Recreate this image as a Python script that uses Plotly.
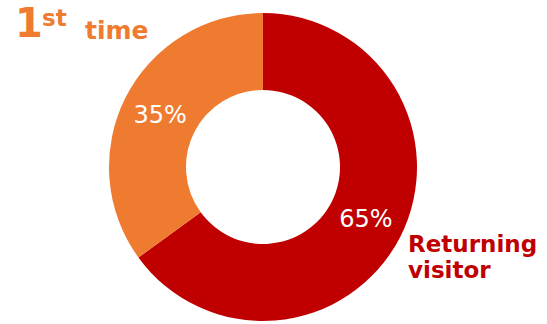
import plotly.graph_objects as go

# Visitor split
labels = ["Returning visitor", "1st time"]
values = [65, 35]
colors = ["#C00000", "#EE7B30"]

W, H = 547, 324
cx, cy, r = 263, 167, 154  # pie centre and radius in px (y from top)

fig = go.Figure(
    go.Pie(
        labels=labels,
        values=values,
        hole=0.5,
        sort=False,
        direction="clockwise",
        rotation=0,
        marker=dict(colors=colors, line=dict(width=0)),
        texttemplate="%{percent:.0%}",
        textposition="inside",
        insidetextorientation="horizontal",
        textfont=dict(family="DejaVu Sans", size=24, color="white"),
        showlegend=False,
        domain=dict(
            x=[(cx - r) / W, (cx + r) / W],
            y=[(H - cy - r) / H, (H - cy + r) / H],
        ),
    )
)

orange, red = colors[1], colors[0]
font = "DejaVu Sans"
ann = [
    dict(x=13, y=38, text="<b>1</b>", size=40, color=orange),
    dict(x=40, y=27, text="<b>st</b>", size=23, color=orange),
    dict(x=83, y=41, text="<b>time</b>", size=25, color=orange),
    dict(x=406, y=253, text="<b>Returning</b>", size=23, color=red),
    dict(x=406, y=279, text="<b>visitor</b>", size=23, color=red),
]
annotations = []
for a in ann:
    annotations.append(
        dict(
            x=a["x"] / W,
            y=1 - a["y"] / H,
            xref="paper",
            yref="paper",
            xanchor="left",
            yanchor="bottom",
            yshift=-a["size"] * 0.25,
            text=a["text"],
            showarrow=False,
            font=dict(family=font, size=a["size"], color=a["color"]),
        )
    )

fig.update_layout(
    width=W,
    height=H,
    margin=dict(l=0, r=0, t=0, b=0),
    paper_bgcolor="white",
    plot_bgcolor="white",
    annotations=annotations,
)

fig.write_html("out.html")
